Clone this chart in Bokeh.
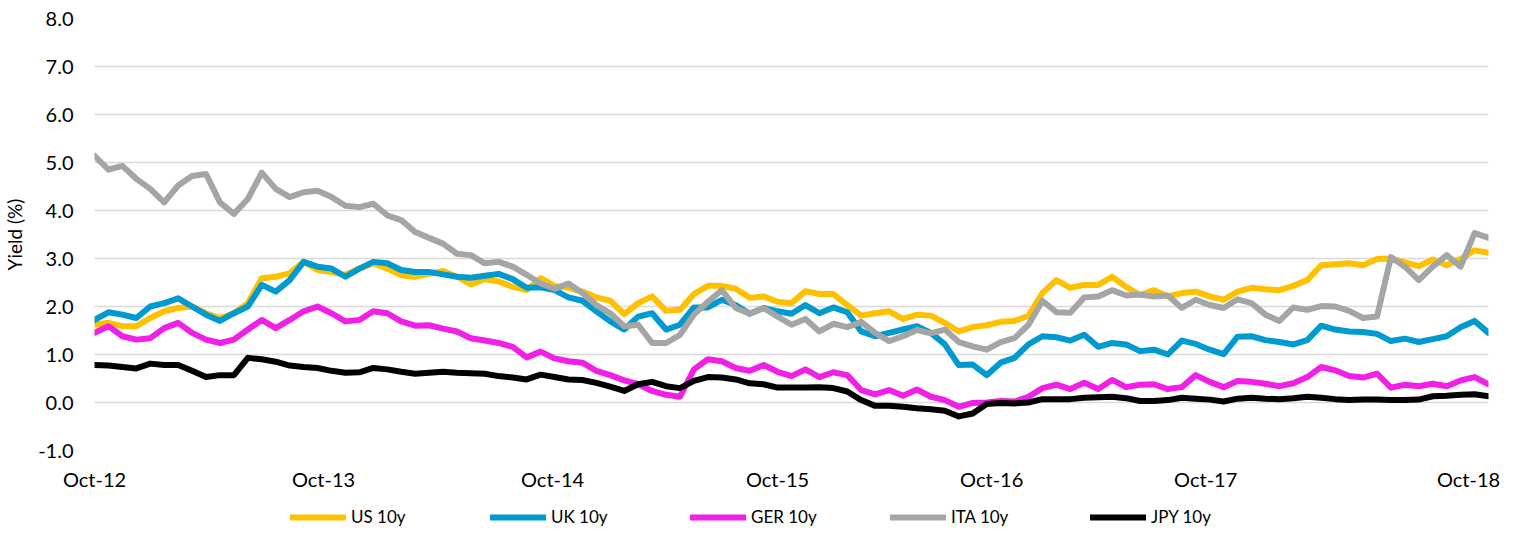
from bokeh.plotting import figure
from bokeh.layouts import column
from bokeh.models import FixedTicker, PrintfTickFormatter, Legend, LegendItem, Range1d
from bokeh.embed import file_html
from bokeh.resources import INLINE

# observation index (roughly 2-3 week steps from Oct-12 to Nov-18)
obs = list(range(101))

us = [1.62, 1.66, 1.59, 1.59, 1.76, 1.90, 1.97, 2.00, 1.86, 1.76,
      1.86, 2.07, 2.59, 2.62, 2.69, 2.93, 2.76, 2.72, 2.66, 2.79,
      2.90, 2.79, 2.65, 2.62, 2.68, 2.74, 2.62, 2.46, 2.57, 2.52,
      2.41, 2.34, 2.59, 2.43, 2.39, 2.31, 2.19, 2.12, 1.84, 2.07,
      2.21, 1.91, 1.93, 2.26, 2.43, 2.43, 2.37, 2.18, 2.21, 2.10,
      2.07, 2.32, 2.26, 2.26, 2.03, 1.81, 1.86, 1.90, 1.74, 1.83,
      1.81, 1.66, 1.48, 1.57, 1.61, 1.68, 1.70, 1.81, 2.28, 2.55,
      2.39, 2.45, 2.45, 2.62, 2.41, 2.24, 2.34, 2.21, 2.28, 2.31,
      2.21, 2.14, 2.31, 2.39, 2.36, 2.34, 2.43, 2.55, 2.86, 2.88,
      2.90, 2.86, 2.99, 3.00, 2.92, 2.84, 2.98, 2.86, 2.99, 3.17,
      3.12]

uk = [1.72, 1.88, 1.83, 1.76, 2.00, 2.07, 2.17, 2.00, 1.83, 1.70,
      1.86, 2.00, 2.45, 2.31, 2.55, 2.93, 2.83, 2.79, 2.62, 2.79,
      2.93, 2.90, 2.76, 2.72, 2.72, 2.67, 2.62, 2.60, 2.64, 2.68,
      2.57, 2.39, 2.40, 2.34, 2.19, 2.12, 1.90, 1.69, 1.52, 1.79,
      1.86, 1.52, 1.62, 1.98, 1.98, 2.14, 2.03, 1.85, 1.97, 1.90,
      1.85, 2.03, 1.86, 1.98, 1.88, 1.48, 1.38, 1.45, 1.52, 1.59,
      1.45, 1.21, 0.78, 0.79, 0.57, 0.83, 0.93, 1.21, 1.38, 1.36,
      1.29, 1.41, 1.16, 1.24, 1.21, 1.07, 1.10, 1.00, 1.29, 1.22,
      1.10, 1.01, 1.37, 1.38, 1.30, 1.26, 1.21, 1.30, 1.60, 1.52,
      1.48, 1.47, 1.43, 1.28, 1.33, 1.26, 1.32, 1.38, 1.57, 1.70,
      1.45]

ger = [1.45, 1.59, 1.38, 1.31, 1.34, 1.55, 1.66, 1.45, 1.31, 1.24,
       1.31, 1.52, 1.72, 1.55, 1.72, 1.90, 2.00, 1.86, 1.69, 1.72,
       1.90, 1.86, 1.69, 1.60, 1.61, 1.54, 1.48, 1.34, 1.29, 1.24,
       1.16, 0.94, 1.06, 0.92, 0.86, 0.83, 0.66, 0.57, 0.46, 0.38,
       0.24, 0.16, 0.12, 0.69, 0.90, 0.86, 0.72, 0.66, 0.78, 0.64,
       0.55, 0.69, 0.53, 0.63, 0.57, 0.26, 0.17, 0.26, 0.14, 0.27,
       0.12, 0.05, -0.09, -0.01, 0.00, 0.03, 0.02, 0.12, 0.30, 0.37,
       0.28, 0.41, 0.28, 0.47, 0.32, 0.37, 0.38, 0.28, 0.32, 0.57,
       0.43, 0.32, 0.45, 0.43, 0.39, 0.34, 0.40, 0.53, 0.74, 0.67,
       0.55, 0.52, 0.60, 0.31, 0.37, 0.34, 0.39, 0.34, 0.46, 0.53,
       0.38]

ita = [5.14, 4.85, 4.93, 4.66, 4.45, 4.17, 4.52, 4.72, 4.76, 4.17,
       3.93, 4.24, 4.79, 4.45, 4.28, 4.38, 4.41, 4.28, 4.10, 4.07,
       4.14, 3.90, 3.80, 3.55, 3.43, 3.31, 3.10, 3.07, 2.90, 2.93,
       2.83, 2.66, 2.48, 2.37, 2.48, 2.28, 2.03, 1.86, 1.59, 1.62,
       1.24, 1.24, 1.41, 1.83, 2.10, 2.34, 1.97, 1.85, 1.97, 1.79,
       1.62, 1.74, 1.48, 1.64, 1.57, 1.68, 1.45, 1.28, 1.38, 1.51,
       1.44, 1.52, 1.26, 1.17, 1.10, 1.26, 1.34, 1.62, 2.12, 1.88,
       1.87, 2.19, 2.21, 2.34, 2.23, 2.25, 2.21, 2.23, 1.97, 2.14,
       2.03, 1.97, 2.15, 2.07, 1.83, 1.70, 1.98, 1.93, 2.01, 2.00,
       1.91, 1.76, 1.79, 3.03, 2.83, 2.55, 2.83, 3.07, 2.83, 3.53,
       3.43]

jpy = [0.78, 0.77, 0.74, 0.71, 0.81, 0.78, 0.78, 0.66, 0.53, 0.57,
       0.57, 0.93, 0.90, 0.85, 0.77, 0.74, 0.72, 0.66, 0.62, 0.63,
       0.72, 0.69, 0.64, 0.60, 0.62, 0.64, 0.62, 0.61, 0.60, 0.55,
       0.52, 0.48, 0.58, 0.53, 0.48, 0.47, 0.41, 0.33, 0.24, 0.38,
       0.43, 0.34, 0.30, 0.45, 0.53, 0.52, 0.48, 0.40, 0.38, 0.31,
       0.31, 0.31, 0.32, 0.30, 0.23, 0.05, -0.07, -0.07, -0.09, -0.12,
       -0.14, -0.17, -0.29, -0.23, -0.03, -0.01, -0.02, 0.00, 0.07, 0.07,
       0.07, 0.10, 0.11, 0.12, 0.09, 0.03, 0.03, 0.05, 0.10, 0.08,
       0.06, 0.02, 0.08, 0.10, 0.08, 0.07, 0.09, 0.12, 0.10, 0.07,
       0.05, 0.06, 0.06, 0.05, 0.05, 0.06, 0.13, 0.14, 0.16, 0.17,
       0.13]

series_names = ["US 10y", "UK 10y", "GER 10y", "ITA 10y", "JPY 10y"]
series_colors = ["#FFC000", "#0099D0", "#F020E6", "#A5A5A5", "#000000"]

tick_labels = ["Oct-12", "Oct-13", "Oct-14", "Oct-15", "Oct-16", "Oct-17", "Oct-18"]
tick_obs = [0.0, 16.43, 32.86, 49.0, 64.36, 79.71, 98.57]
y_ticks = [-1, 0, 1, 2, 3, 4, 5, 6, 7, 8]

FONT = "Lato"
LW = 6

# ---------------- main chart ----------------
p = figure(width=1511, height=493, output_backend="svg", toolbar_location=None,
           x_range=Range1d(0, 100), y_range=Range1d(-1, 8),
           min_border_left=88, min_border_right=23, min_border_top=18,
           min_border_bottom=40)
p.outline_line_color = None
p.background_fill_color = "white"
p.border_fill_color = "white"

for name, vals, col in zip(series_names, [us, uk, ger, ita, jpy], series_colors):
    p.line(obs, vals, line_color=col, line_width=LW, line_join="round", line_cap="round")

p.xgrid.grid_line_color = None
p.ygrid.grid_line_color = "#D9D9D9"
p.ygrid.grid_line_width = 1.5
p.ygrid.ticker = FixedTicker(ticks=y_ticks)

p.yaxis.ticker = FixedTicker(ticks=y_ticks)
p.yaxis.formatter = PrintfTickFormatter(format="%.1f")
p.yaxis.axis_line_color = None
p.yaxis.major_tick_line_color = None
p.yaxis.minor_tick_line_color = None
p.yaxis.major_tick_out = 0
p.yaxis.major_label_standoff = 21
p.yaxis.major_label_text_font = FONT
p.yaxis.major_label_text_font_size = "20px"
p.yaxis.major_label_text_color = "black"
p.yaxis.axis_label = "Yield (%)"
p.yaxis.axis_label_text_font = FONT
p.yaxis.axis_label_text_font_size = "19px"
p.yaxis.axis_label_text_font_style = "normal"
p.yaxis.axis_label_text_color = "black"
p.yaxis.axis_label_standoff = 9

p.xaxis.ticker = FixedTicker(ticks=tick_obs)
p.xaxis.major_label_overrides = {t: lab for t, lab in zip(tick_obs, tick_labels)}
p.xaxis.axis_line_color = None
p.xaxis.major_tick_line_color = None
p.xaxis.minor_tick_line_color = None
p.xaxis.major_tick_out = 0
p.xaxis.major_label_standoff = 16
p.xaxis.major_label_text_font = FONT
p.xaxis.major_label_text_font_size = "20px"
p.xaxis.major_label_text_color = "black"

# ---------------- legend strip ----------------
lg = figure(width=1511, height=34, output_backend="svg", toolbar_location=None,
            title=None, x_axis_location=None, y_axis_location=None,
            x_range=Range1d(0, 1), y_range=Range1d(0, 1),
            min_border_left=0, min_border_right=0, min_border_top=0, min_border_bottom=0)
lg.grid.grid_line_color = None
lg.outline_line_color = None
lg.background_fill_color = "white"
lg.border_fill_color = "white"

items = []
for name, col in zip(series_names, series_colors):
    # key-only renderer, kept outside the visible range
    r = lg.line(x=[-2, -1], y=[-2, -2], line_color=col, line_width=LW, line_cap="round")
    items.append(LegendItem(label=name, renderers=[r]))

legend = Legend(
    items=items, orientation="horizontal", location=(196, 0),
    glyph_width=56, glyph_height=16, label_standoff=5, label_width=139,
    label_height=16, spacing=0, padding=0, margin=0,
    border_line_color=None, background_fill_alpha=0,
    label_text_font=FONT, label_text_font_size="17px", label_text_color="black",
)
lg.add_layout(legend)

layout = column(p, lg, spacing=0)
open("out.html", "w").write(file_html(layout, INLINE))
